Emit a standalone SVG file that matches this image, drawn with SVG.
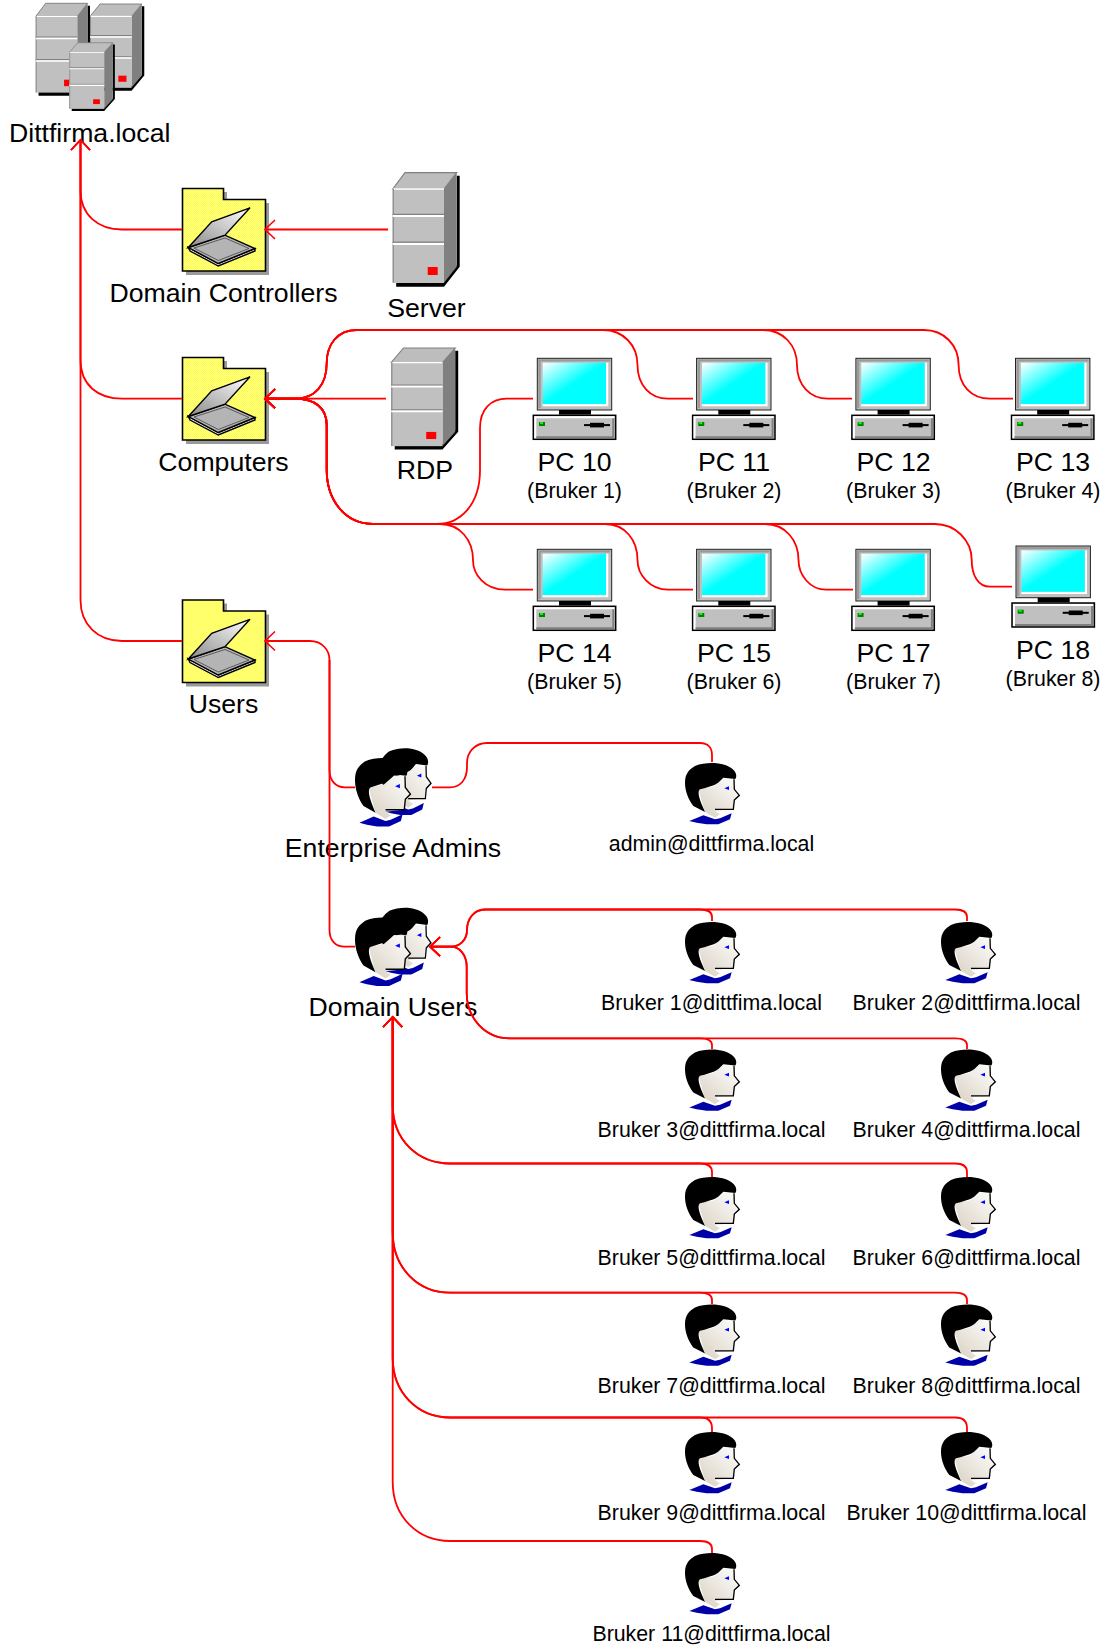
<svg xmlns="http://www.w3.org/2000/svg" xmlns:xlink="http://www.w3.org/1999/xlink" width="1105" height="1651" viewBox="0 0 1105 1651">
<style>
text{font-family:"Liberation Sans",Arial,sans-serif;fill:#000;text-anchor:middle}
.l{font-size:26.67px}
.s{font-size:21.33px}
.c{fill:none;stroke:#f00;stroke-width:1.8;marker-end:url(#arrow)}
.n{fill:none;stroke:#f00;stroke-width:1.8}
</style>
<defs>
<marker id="arrow" markerUnits="userSpaceOnUse" viewBox="-12 -11 14 22" refX="0" refY="0" markerWidth="14" markerHeight="22" orient="auto" overflow="visible">
<path d="M-10,-9.5 L0,0 L-10,9.5" fill="none" stroke="#f00" stroke-width="1.6"/>
</marker>
<pattern id="dither" width="2" height="2" patternUnits="userSpaceOnUse">
<rect width="2" height="2" fill="#ffff30"/><rect width="1" height="1" fill="#ffffa8"/><rect x="1" y="1" width="1" height="1" fill="#ffffa8"/>
</pattern>
<linearGradient id="scr" x1="0" y1="0" x2="1" y2="1"><stop offset="0" stop-color="#fff"/><stop offset=".5" stop-color="#0ff"/><stop offset="1" stop-color="#0ff"/></linearGradient>
<linearGradient id="lid" x1="1" y1="0" x2="0" y2="1"><stop offset="0" stop-color="#fff"/><stop offset="1" stop-color="#8a8a8a"/></linearGradient>
<linearGradient id="face" x1="1" y1="0" x2="0" y2="1"><stop offset="0" stop-color="#fff"/><stop offset="1" stop-color="#d8cfc0"/></linearGradient>
<g id="server">
<polygon points="64,3 67,3 67,94 51.3,114 3.5,114 3.5,108 51,108 64,92" fill="#000"/>
<polygon points="0,16.3 12.3,0 64,0 51.3,16.3" fill="#bdbdbd" stroke="#808080" stroke-width="1.2"/>
<polygon points="51.3,16.3 64,0 64,94 51.3,110" fill="#808080"/>
<rect x="0" y="16.3" width="51.3" height="94" fill="#c0c0c0"/>
<path d="M0,16.3 H51.3" stroke="#fff" stroke-width="1.4"/>
<path d="M0.6,16 V110" stroke="#909090" stroke-width="1.4" fill="none"/>
<path d="M0,41.6 H51.3 M0,69.4 H51.3" stroke="#808080" stroke-width="1.3"/>
<path d="M0,43.4 H51.3 M0,71.2 H51.3" stroke="#fff" stroke-width="2"/>
<rect x="35" y="94.3" width="10" height="8" fill="#f00"/>
</g>
<g id="folder">
<polygon points="4,4 45,4 45,15 87,15 87,87 4,87" fill="#9a9a9a"/>
<polygon points="0.5,0.5 41.5,0.5 41.5,11.5 83.5,11.5 83.5,83 0.5,83" fill="url(#dither)" stroke="#000" stroke-width="1.6"/>
<polygon points="6.3,59.5 8,63 36.3,78 73,63 73,60.5 36.3,75.5" fill="#e8e8e8" stroke="#000" stroke-width="1.4"/>
<polygon points="6.3,59.5 43,47.2 73,60.5 36.3,75.5" fill="#b4b4b4" stroke="#000" stroke-width="1.4"/>
<polygon points="6.3,59.5 29.7,33.8 68,19.8 43,47.2" fill="url(#lid)" stroke="#000" stroke-width="1.4"/>
<path d="M12,60 L43,50 L67,60.5 L36.3,72.5 Z" fill="none" stroke="#444" stroke-width=".8"/>
</g>
<g id="pc">
<rect x="0" y="0" width="74.4" height="51.7" fill="#c0c0c0" stroke="#222" stroke-width="1"/>
<path d="M1,1 H73 V3.2 H3.4 V50 H1 Z" fill="#9a9a9a"/>
<path d="M5.4,45.7 H68.7 V4.4 H71 V48 H5.4 Z" fill="#fff"/>
<rect x="5.4" y="4.4" width="63.3" height="41.3" fill="url(#scr)"/>
<rect x="21.7" y="51.7" width="32" height="4.6" fill="#000"/>
<rect x="-4" y="57" width="82.4" height="24" fill="#c0c0c0" stroke="#000" stroke-width="1.5"/>
<path d="M-3,58 H77 V60 H-1 V80 H-3 Z" fill="#fff"/>
<path d="M-1,78 H75 V60 H77 V80 H-1 Z" fill="#808080"/>
<rect x="1.7" y="63.7" width="6" height="4" fill="#008000"/><rect x="2.7" y="63.7" width="3" height="2" fill="#0f0"/>
<rect x="46.7" y="65.8" width="26" height="2" fill="#000"/><rect x="52.7" y="64.5" width="14" height="4.6" fill="#000"/>
</g>
<g id="person">
<path d="M58,240 L100,223 L135,235 L150,232 L185,217 L180,235 L145,250 L110,250 L80,245 Z" fill="#0000a8"/>
<path d="M85,145 L130,137 L160,113 L192,115 L193,145 L210,163 L195,175 L190,205 L135,210 L150,220 L135,230 L105,213 Z" fill="url(#face)"/>
<path d="M192,115 L193,145 L208,163 L193,177 L190,205 L135,205" fill="none" stroke="#000" stroke-width="4"/>
<path d="M105,213 L70,195 C55,175 45,150 45,125 C45,95 60,85 75,75 C95,67 120,65 140,67 C165,70 185,78 195,92 C200,100 200,108 196,114 L160,110 L150,120 C140,130 130,135 90,145 C83,150 85,165 95,190 Z" fill="#000"/>
<polygon points="163,142 177,136 177,147" fill="#00f"/>
</g>
</defs>

<g id="n-dittfirma">
<use xlink:href="#server" href="#server" transform="translate(90,4) scale(.81,.76)"/>
<use xlink:href="#server" href="#server" transform="translate(35.7,3.3) scale(.81,.81)"/>
<use xlink:href="#server" href="#server" transform="translate(69.3,42.7) scale(.68,.6)"/>
<text class="l" x="89.7" y="141.7">Dittfirma.local</text>
</g>
<g id="n-dc"><use xlink:href="#folder" href="#folder" transform="translate(182,188)"/><text class="l" x="223.5" y="302">Domain Controllers</text></g>
<g id="n-server"><use xlink:href="#server" href="#server" transform="translate(392.7,172.7)"/><text class="l" x="426.5" y="316.7">Server</text></g>
<g id="n-computers"><use xlink:href="#folder" href="#folder" transform="translate(182,357)"/><text class="l" x="223.5" y="471">Computers</text></g>
<g id="n-rdp"><use xlink:href="#server" href="#server" transform="translate(391.2,348) scale(1,.89)"/><text class="l" x="425" y="479.3">RDP</text></g>
<g id="n-users"><use xlink:href="#folder" href="#folder" transform="translate(182,599.5)"/><text class="l" x="223.5" y="712.5">Users</text></g>

<g id="n-pc10"><use xlink:href="#pc" href="#pc" transform="translate(537.3,358.3)"/><text class="l" x="574.5" y="470.8">PC 10</text><text class="s" x="574.5" y="498">(Bruker 1)</text></g>
<g id="n-pc11"><use xlink:href="#pc" href="#pc" transform="translate(696.6,358.3)"/><text class="l" x="734" y="470.8">PC 11</text><text class="s" x="734" y="498">(Bruker 2)</text></g>
<g id="n-pc12"><use xlink:href="#pc" href="#pc" transform="translate(855.9,358.3)"/><text class="l" x="893.5" y="470.8">PC 12</text><text class="s" x="893.5" y="498">(Bruker 3)</text></g>
<g id="n-pc13"><use xlink:href="#pc" href="#pc" transform="translate(1015.5,358.3)"/><text class="l" x="1053" y="470.8">PC 13</text><text class="s" x="1053" y="498">(Bruker 4)</text></g>
<g id="n-pc14"><use xlink:href="#pc" href="#pc" transform="translate(537.3,549.3)"/><text class="l" x="574.5" y="661.8">PC 14</text><text class="s" x="574.5" y="689">(Bruker 5)</text></g>
<g id="n-pc15"><use xlink:href="#pc" href="#pc" transform="translate(696.6,549.3)"/><text class="l" x="734" y="661.8">PC 15</text><text class="s" x="734" y="689">(Bruker 6)</text></g>
<g id="n-pc17"><use xlink:href="#pc" href="#pc" transform="translate(855.9,549.3)"/><text class="l" x="893.5" y="661.8">PC 17</text><text class="s" x="893.5" y="689">(Bruker 7)</text></g>
<g id="n-pc18"><use xlink:href="#pc" href="#pc" transform="translate(1016,546)"/><text class="l" x="1053" y="658.8">PC 18</text><text class="s" x="1053" y="686">(Bruker 8)</text></g>

<g id="n-ea">
<use xlink:href="#person" href="#person" transform="translate(365.9,724) scale(.313,.364)"/>
<use xlink:href="#person" href="#person" transform="translate(339.7,733.3) scale(.34,.373)"/>
<text class="l" x="393" y="857">Enterprise Admins</text>
</g>
<g id="n-du">
<use xlink:href="#person" href="#person" transform="translate(365.9,883.5) scale(.313,.364)"/>
<use xlink:href="#person" href="#person" transform="translate(339.7,892.8) scale(.34,.373)"/>
<text class="l" x="393" y="1016">Domain Users</text>
</g>
<g id="n-admin"><use xlink:href="#person" href="#person" transform="translate(670,741) scale(.3333)"/><text class="s" x="711.5" y="851">admin@dittfirma.local</text></g>
<g id="n-b1"><use xlink:href="#person" href="#person" transform="translate(670,900) scale(.3333)"/><text class="s" x="711.5" y="1010">Bruker 1@dittfima.local</text></g>
<g id="n-b2"><use xlink:href="#person" href="#person" transform="translate(926,900) scale(.3333)"/><text class="s" x="966.5" y="1010">Bruker 2@dittfirma.local</text></g>
<g id="n-b3"><use xlink:href="#person" href="#person" transform="translate(670,1027.5) scale(.3333)"/><text class="s" x="711.5" y="1137">Bruker 3@dittfirma.local</text></g>
<g id="n-b4"><use xlink:href="#person" href="#person" transform="translate(926,1027.5) scale(.3333)"/><text class="s" x="966.5" y="1137">Bruker 4@dittfirma.local</text></g>
<g id="n-b5"><use xlink:href="#person" href="#person" transform="translate(670,1155) scale(.3333)"/><text class="s" x="711.5" y="1265">Bruker 5@dittfirma.local</text></g>
<g id="n-b6"><use xlink:href="#person" href="#person" transform="translate(926,1155) scale(.3333)"/><text class="s" x="966.5" y="1265">Bruker 6@dittfirma.local</text></g>
<g id="n-b7"><use xlink:href="#person" href="#person" transform="translate(670,1282.5) scale(.3333)"/><text class="s" x="711.5" y="1393">Bruker 7@dittfirma.local</text></g>
<g id="n-b8"><use xlink:href="#person" href="#person" transform="translate(926,1282.5) scale(.3333)"/><text class="s" x="966.5" y="1393">Bruker 8@dittfirma.local</text></g>
<g id="n-b9"><use xlink:href="#person" href="#person" transform="translate(670,1410) scale(.3333)"/><text class="s" x="711.5" y="1520">Bruker 9@dittfirma.local</text></g>
<g id="n-b10"><use xlink:href="#person" href="#person" transform="translate(926,1410) scale(.3333)"/><text class="s" x="966.5" y="1520">Bruker 10@dittfirma.local</text></g>
<g id="n-b11"><use xlink:href="#person" href="#person" transform="translate(670,1531) scale(.3333)"/><text class="s" x="711.5" y="1641">Bruker 11@dittfirma.local</text></g>

<g id="connectors">
<path class="c" d="M182,229.5 H122 C98,229.5 80.5,215 80.5,190 V140"/>
<path class="c" d="M182,398.7 H122 C98,398.7 80.5,385 80.5,360 V140"/>
<path class="c" d="M182,641 H122 C98,641 80.5,625 80.5,600 V140"/>
<path class="c" d="M388,229.5 H265"/>
<path class="c" d="M386,398.7 H265"/>
<path class="c" d="M693,398.7 H668 C650,398.7 637.5,385 637.5,365 C637.5,345 623,330 603,330 H356.7 C337,330 326.7,345 326.7,363 C326.7,385 315,398.7 295,398.7 H265"/>
<path class="c" d="M852,398.7 H828 C810,398.7 797,385 797,365 C797,345 783,330 763,330 H356.7 C337,330 326.7,345 326.7,363 C326.7,385 315,398.7 295,398.7 H265"/>
<path class="c" d="M1013,398.7 H990 C971,398.7 958.6,385 958.6,365 C958.6,345 944,330 924,330 H356.7 C337,330 326.7,345 326.7,363 C326.7,385 315,398.7 295,398.7 H265"/>
<path class="c" d="M533,398.7 H507 C490,398.7 480,410 480,428 V470 C480,505 460,524 437,524 H373 C345,524 326.7,500 326.7,470 V425 C326.7,408 315,398.7 295,398.7 H265"/>
<path class="c" d="M533,589.7 H505 C485,589.7 473,575 473,560 C473,540 460,524 440,524 H373 C345,524 326.7,500 326.7,470 V425 C326.7,408 315,398.7 295,398.7 H265"/>
<path class="c" d="M693,589.7 H668 C650,589.7 637.5,575 637.5,560 C637.5,540 625,524 605,524 H373 C345,524 326.7,500 326.7,470 V425 C326.7,408 315,398.7 295,398.7 H265"/>
<path class="c" d="M853,589.7 H826 C810,589.7 798.5,575 798.5,560 C798.5,540 785,524 765,524 H373 C345,524 326.7,500 326.7,470 V425 C326.7,408 315,398.7 295,398.7 H265"/>
<path class="c" d="M1012,586.7 H990 C978,586.7 971.7,575 971.7,560 C971.7,540 955,524 935,524 H373 C345,524 326.7,500 326.7,470 V425 C326.7,408 315,398.7 295,398.7 H265"/>
<path class="n" d="M355,787.3 H345 C335,787.3 329.5,780 329.5,770 V660"/>
<path class="c" d="M355,946.7 H345 C335,946.7 329.5,940 329.5,930 V660 C329.5,650 322,641 310,641 H265"/>
<path class="n" d="M712,762 V755 C712,748 708,743 700,743 H487 C475,743 467,752 467,763 V767 C467,780 460,787.3 450,787.3 H432"/>
<path class="c" d="M712,921 V917 C712,912 708,909.5 700,909.5 H485 C473,909.5 467,920 467,930 C467,940 460,946.7 450,946.7 H430"/>
<path class="c" d="M967,921 V917 C967,912 963,909.5 955,909.5 H485 C473,909.5 467,920 467,930 C467,940 460,946.7 450,946.7 H430"/>
<path class="c" d="M712,1049 V1045 C712,1041 708,1038.3 700,1038.3 H510 C485,1038.3 466.7,1018 466.7,993 V967 C466.7,955 460,946.7 450,946.7 H430"/>
<path class="c" d="M967,1049 V1045 C967,1041 963,1038.3 955,1038.3 H510 C485,1038.3 466.7,1018 466.7,993 V967 C466.7,955 460,946.7 450,946.7 H430"/>
<path class="c" d="M712,1177 V1172 C712,1167 708,1163.5 700,1163.5 H450 C418,1163.5 392.7,1140 392.7,1105 V1017"/>
<path class="c" d="M967,1177 V1172 C967,1167 963,1163.5 955,1163.5 H450 C418,1163.5 392.7,1140 392.7,1105 V1017"/>
<path class="c" d="M712,1304 V1300 C712,1295 708,1292.6 700,1292.6 H450 C418,1292.6 392.7,1268 392.7,1232 V1017"/>
<path class="c" d="M967,1304 V1300 C967,1295 963,1292.6 955,1292.6 H450 C418,1292.6 392.7,1268 392.7,1232 V1017"/>
<path class="c" d="M712,1432 V1428 C712,1421 708,1417.5 700,1417.5 H450 C418,1417.5 392.7,1393 392.7,1358 V1017"/>
<path class="c" d="M967,1432 V1428 C967,1421 963,1417.5 955,1417.5 H450 C418,1417.5 392.7,1393 392.7,1358 V1017"/>
<path class="c" d="M712,1553 V1549 C712,1544 708,1541 700,1541 H450 C418,1541 392.7,1517 392.7,1482 V1017"/>
</g>
</svg>
